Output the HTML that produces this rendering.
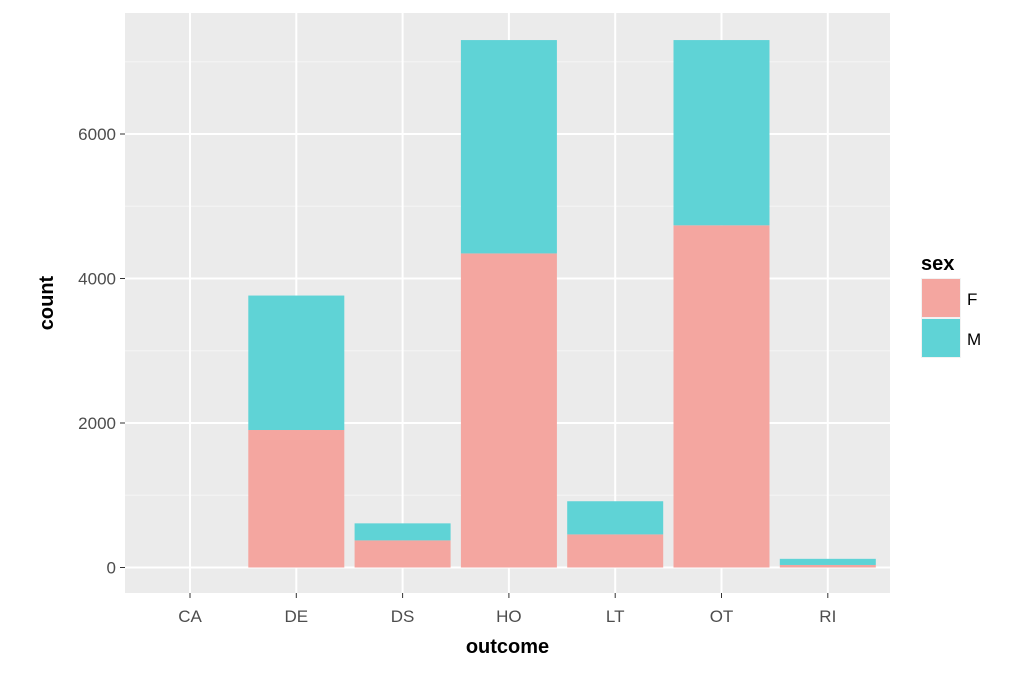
<!DOCTYPE html>
<html><head><meta charset="utf-8"><style>
body{margin:0;background:#fff}
svg text{font-family:"Liberation Sans",sans-serif}
</style></head><body>
<svg id="c" width="1010" height="678" xmlns="http://www.w3.org/2000/svg"></svg>
<script>
const categories=["CA","DE","DS","HO","LT","OT","RI"];
const femaleCounts=[0,1903,375,4347,458,4736,35];
const maleCounts=[0,1861,236,2953,459,2564,85];
const yTicks=[0,2000,4000,6000];
const yMinor=[1000,3000,5000,7000];
const svg=document.getElementById('c');
const NS="http://www.w3.org/2000/svg";
const L=125,R=890,T=13,B=593;
const y0=567.5,pxPer=144.5/2000;
const y=v=>y0-v*pxPer;
const bw=96;
const xc=i=>L+65+i*106.3;
function mk(tag,attrs,parent){const e=document.createElementNS(NS,tag);for(const k in attrs)e.setAttribute(k,attrs[k]);(parent||svg).appendChild(e);return e;}
const panel=mk('rect',{x:L,y:T,width:R-L,height:B-T,fill:'#ebebeb'});


yMinor.forEach(v=>{const l=mk('line',{x1:L,x2:R,y1:y(v),y2:y(v),stroke:'#f5f5f5','stroke-width':1});

});
yTicks.forEach(v=>{const l=mk('line',{x1:L,x2:R,y1:y(v),y2:y(v),stroke:'#fff','stroke-width':2});


const tk=mk('line',{x1:L-5,x2:L,y1:y(v),y2:y(v),stroke:'#333','stroke-width':1});


const t=mk('text',{x:L-9,y:y(v)+6,'text-anchor':'end','font-size':17,fill:'#4d4d4d'});t.textContent=v;

});
categories.forEach((c,i)=>{const x=xc(i);
const g=mk('line',{x1:x,x2:x,y1:T,y2:B,stroke:'#fff','stroke-width':2});


const tk=mk('line',{x1:x,x2:x,y1:B,y2:B+5,stroke:'#333','stroke-width':1});


const t=mk('text',{x:x,y:B+29,'text-anchor':'middle','font-size':17,fill:'#4d4d4d'});t.textContent=c;

});
categories.forEach((c,i)=>{const x=xc(i)-bw/2;const f=femaleCounts[i],m=maleCounts[i];
if(f>0){const b=mk('rect',{x:x,y:y(f),width:bw,height:y(0)-y(f),fill:'#f4a6a0'});

}
if(m>0){const b=mk('rect',{x:x,y:y(f+m),width:bw,height:y(f)-y(f+m),fill:'#5fd3d6'});

}});
const xt=mk('text',{x:(L+R)/2,y:653,'text-anchor':'middle','font-size':20,'font-weight':'bold',fill:'#000'});xt.textContent='outcome';


const yt=mk('text',{x:53,y:(T+B)/2,'text-anchor':'middle','font-size':20,'font-weight':'bold',fill:'#000',transform:'rotate(-90 53 '+((T+B)/2)+')'});yt.textContent='count';


const lt=mk('text',{x:921,y:270,'font-size':20,'font-weight':'bold',fill:'#000'});lt.textContent='sex';


[['F','#f4a6a0',279],['M','#5fd3d6',319]].forEach(([n,col,yy])=>{
const bg=mk('rect',{x:921,y:yy-1,width:40,height:40,fill:'#f2f2f2'});


const k=mk('rect',{x:922,y:yy,width:38,height:38,fill:col});


const t=mk('text',{x:967,y:yy+26,'font-size':17,fill:'#000'});t.textContent=n;

});
</script>
</body></html>
